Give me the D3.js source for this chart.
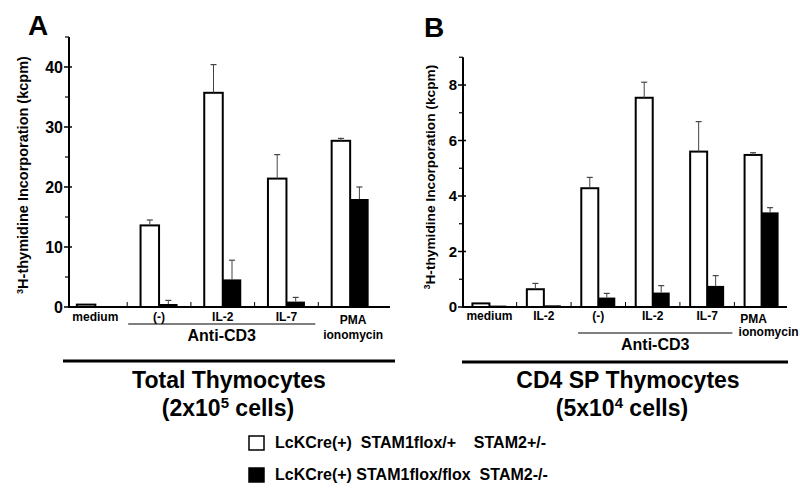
<!DOCTYPE html>
<html>
<head>
<meta charset="utf-8">
<script src="https://cdn.jsdelivr.net/npm/d3@7"></script>
<style>
  html, body { margin: 0; padding: 0; background: #fff; }
  svg text { font-family: "Liberation Sans", Arial, Helvetica, sans-serif; font-weight: bold; fill: #000; }
</style>
</head>
<body>
<svg id="chart" width="800" height="495"></svg>
<script>
// ---------- Data ----------
// Panel A: Total Thymocytes
const catsA = ["medium", "(-)", "IL-2", "IL-7", "PMA"];
const cats2A = ["", "", "", "", "ionomycin"];
const whiteA = [0.4, 13.6, 35.7, 21.4, 27.7];
const whiteSdA = [0, 0.9, 4.7, 4.0, 0.4];
const blackA = [0.1, 0.5, 4.6, 0.9, 18.0];
const blackSdA = [0, 0.6, 3.2, 0.7, 2.0];
const majorTicksA = [0, 10, 20, 30, 40];
const minorTicksA = [5, 15, 25, 35, 45];
const groupA = { from: 1, to: 3, label: "Anti-CD3" };

// Panel B: CD4 SP Thymocytes
const catsB = ["medium", "IL-2", "(-)", "IL-2", "IL-7", "PMA"];
const cats2B = ["", "", "", "", "", "ionomycin"];
const whiteB = [0.13, 0.64, 4.28, 7.54, 5.6, 5.48];
const whiteSdB = [0, 0.21, 0.39, 0.56, 1.08, 0.08];
const blackB = [0.05, 0.06, 0.34, 0.52, 0.76, 3.41];
const blackSdB = [0, 0, 0.15, 0.25, 0.37, 0.17];
const majorTicksB = [0, 2, 4, 6, 8];
const minorTicksB = [1, 3, 5, 7, 9];
const groupB = { from: 2, to: 4, label: "Anti-CD3" };

const legendLabels = ["LcKCre(+)  STAM1flox/+    STAM2+/-", "LcKCre(+) STAM1flox/flox  STAM2-/-"];
const legendFills = ["#fff", "#000"];

// ---------- Drawing ----------
const svg = d3.select("#chart");

function drawPanel(p) {
  const g = svg.append("g");
  const idx = p.cats.map((d, i) => i);
  const x = d3.scaleBand().domain(idx).range(p.xRange).paddingInner(0).paddingOuter(0);
  const y = d3.scaleLinear().domain(p.yDomain).range([p.baseY, p.topY]);
  const bw = p.barW;

  // Y axis line
  g.append("line").attr("x1", p.axisX).attr("x2", p.axisX)
    .attr("y1", y(p.yDomain[0]) + 1).attr("y2", y(p.yDomain[1]))
    .attr("stroke", "#000").attr("stroke-width", 2);
  g.selectAll(".maj").data(p.major).enter().append("line")
    .attr("x1", p.axisX - 5).attr("x2", p.axisX + 3)
    .attr("y1", d => y(d)).attr("y2", d => y(d))
    .attr("stroke", "#000").attr("stroke-width", 1.5);
  g.selectAll(".min").data(p.minor).enter().append("line")
    .attr("x1", p.axisX - 4).attr("x2", p.axisX)
    .attr("y1", d => y(d)).attr("y2", d => y(d))
    .attr("stroke", "#000").attr("stroke-width", 1.2);
  g.selectAll(".tl").data(p.major).enter().append("text")
    .attr("x", p.axisX - 6).attr("y", d => y(d))
    .attr("dy", "0.36em").attr("text-anchor", "end")
    .attr("font-size", p.tickFont).text(d => d);

  // Y label
  const yl = g.append("text")
    .attr("transform", `translate(${p.yLabelX},${p.yLabelY}) rotate(-90)`)
    .attr("text-anchor", "middle").attr("font-size", p.yLabelFont);
  yl.append("tspan").attr("font-size", p.yLabelFont * 0.62).attr("dy", -p.yLabelFont * 0.35).text("3");
  yl.append("tspan").attr("dy", p.yLabelFont * 0.35).text("H-thymidine Incorporation (kcpm)");

  // Bars
  const cx = i => x(i) + x.bandwidth() / 2;
  g.selectAll(".wb").data(p.white).enter().append("rect")
    .attr("x", (d, i) => cx(i) - bw).attr("width", bw)
    .attr("y", d => y(d)).attr("height", d => y(0) - y(d))
    .attr("fill", "#fff").attr("stroke", "#000").attr("stroke-width", 2);
  g.selectAll(".bb").data(p.black).enter().append("rect")
    .attr("x", (d, i) => cx(i)).attr("width", bw)
    .attr("y", d => y(d)).attr("height", d => y(0) - y(d))
    .attr("fill", "#000");

  // Error bars (upper only)
  function errs(vals, sds, off) {
    vals.forEach((v, i) => {
      if (!sds[i]) return;
      const xc = cx(i) + off;
      g.append("line").attr("x1", xc).attr("x2", xc)
        .attr("y1", y(v)).attr("y2", y(v + sds[i]))
        .attr("stroke", "#444").attr("stroke-width", 1);
      g.append("line").attr("x1", xc - 3).attr("x2", xc + 3)
        .attr("y1", y(v + sds[i])).attr("y2", y(v + sds[i]))
        .attr("stroke", "#444").attr("stroke-width", 1.2);
    });
  }
  errs(p.white, p.whiteSd, -bw / 2);
  errs(p.black, p.blackSd, bw / 2);

  // Baseline and boundary ticks
  g.append("line").attr("x1", p.axisX - 1).attr("x2", p.baseEnd)
    .attr("y1", y(0)).attr("y2", y(0))
    .attr("stroke", "#000").attr("stroke-width", 2.2);
  g.selectAll(".bt").data(idx.slice(1)).enter().append("line")
    .attr("x1", d => x(d)).attr("x2", d => x(d))
    .attr("y1", y(0)).attr("y2", y(0) - 5)
    .attr("stroke", "#000").attr("stroke-width", 1);

  // Category labels
  g.selectAll(".cl").data(p.cats).enter().append("text")
    .attr("x", (d, i) => cx(i) + (i === p.cats.length - 1 ? p.pmaDx : 0))
    .attr("y", (d, i) => i === p.cats.length - 1 ? p.pmaY : p.labelY)
    .attr("text-anchor", "middle").attr("font-size", 12).text(d => d);
  g.selectAll(".cl2").data(p.cats2).enter().append("text")
    .attr("x", (d, i) => cx(i) + (i === p.cats.length - 1 ? p.ionoDx : 0))
    .attr("y", p.ionoY)
    .attr("text-anchor", "middle").attr("font-size", 12).text(d => d);

  // Anti-CD3 group
  const gx1 = x(p.group.from) + p.groupInset[0];
  const gx2 = x(p.group.to) + x.bandwidth() + p.groupInset[1];
  g.append("line").attr("x1", gx1).attr("x2", gx2)
    .attr("y1", p.groupLineY).attr("y2", p.groupLineY)
    .attr("stroke", "#000").attr("stroke-width", 1.2);
  g.append("text").attr("x", (gx1 + gx2) / 2).attr("y", p.groupTextY)
    .attr("text-anchor", "middle").attr("font-size", 16).text(p.group.label);

  // Big rule and titles
  g.append("line").attr("x1", p.ruleX[0]).attr("x2", p.ruleX[1])
    .attr("y1", p.ruleY).attr("y2", p.ruleY)
    .attr("stroke", "#000").attr("stroke-width", 3);
  g.append("text").attr("x", p.titleX).attr("y", 388)
    .attr("text-anchor", "middle").attr("font-size", 23).text(p.title);
  const t2 = g.append("text").attr("x", p.title2X).attr("y", 416)
    .attr("text-anchor", "middle").attr("font-size", 23);
  t2.append("tspan").text(p.title2[0]);
  t2.append("tspan").attr("font-size", 15).attr("dy", -8).text(p.title2[1]);
  t2.append("tspan").attr("dy", 8).text(p.title2[2]);

  // Panel letter
  g.append("text").attr("x", p.letterX).attr("y", p.letterY)
    .attr("font-size", 28).text(p.letter);
}

drawPanel({
  cats: catsA, cats2: cats2A, white: whiteA, whiteSd: whiteSdA, black: blackA, blackSd: blackSdA,
  major: majorTicksA, minor: minorTicksA, group: groupA,
  xRange: [63.5, 382], yDomain: [0, 45], baseY: 307, topY: 37, axisX: 69, baseEnd: 390, barW: 18.5,
  tickFont: 16, yLabelX: 28, yLabelY: 175, yLabelFont: 14.5,
  labelY: 321, pmaY: 324, pmaDx: 3, ionoY: 339, ionoDx: 3,
  groupInset: [1, -3], groupLineY: 324, groupTextY: 341,
  ruleX: [63, 395], ruleY: 361, titleX: 229, title: "Total Thymocytes",
  title2X: 228, title2: ["(2x10", "5", " cells)"], letter: "A", letterX: 28, letterY: 35
});

drawPanel({
  cats: catsB, cats2: cats2B, white: whiteB, whiteSd: whiteSdB, black: blackB, blackSd: blackSdB,
  major: majorTicksB, minor: minorTicksB, group: groupB,
  xRange: [462.2, 788.8], yDomain: [0, 9], baseY: 307, topY: 57.25, axisX: 463, baseEnd: 787, barW: 17,
  tickFont: 15, yLabelX: 435, yLabelY: 177, yLabelFont: 13.7,
  labelY: 320, pmaY: 323, pmaDx: -8, ionoY: 336, ionoDx: 7,
  groupInset: [7, -2], groupLineY: 333, groupTextY: 350,
  ruleX: [462, 788], ruleY: 362, titleX: 628, title: "CD4 SP Thymocytes",
  title2X: 622, title2: ["(5x10", "4", " cells)"], letter: "B", letterX: 424, letterY: 37
});

// Legend
const lg = svg.append("g");
legendLabels.forEach((lab, i) => {
  const yy = 436 + i * 32;
  lg.append("rect").attr("x", 249).attr("y", yy).attr("width", 15).attr("height", 14)
    .attr("fill", legendFills[i]).attr("stroke", "#000").attr("stroke-width", 1.5);
  lg.append("text").attr("x", 275).attr("y", yy + 12).attr("font-size", 16)
    .attr("xml:space", "preserve").style("white-space", "pre").text(lab);
});
</script>
</body>
</html>
